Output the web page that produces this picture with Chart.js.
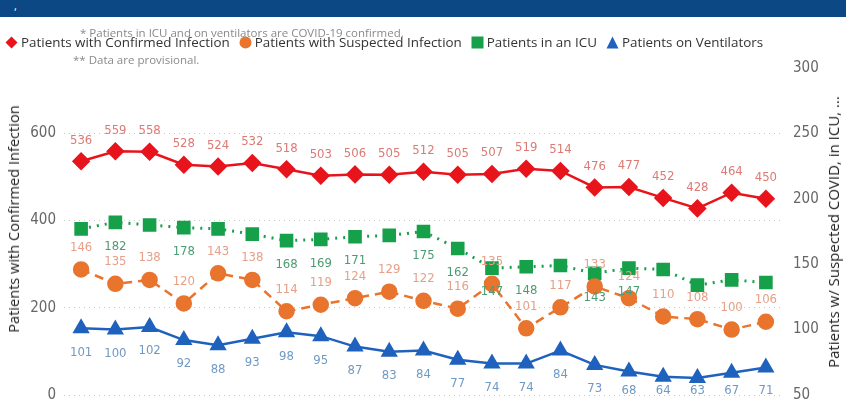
<!DOCTYPE html>
<html lang="en">
  <head>
    <meta charset="UTF-8" />
    <title>COVID-19 Hospitalizations</title>
    <script src="https://cdn.jsdelivr.net/npm/chart.js"></script>
    <style>
      body { margin: 0; width: 846px; height: 400px; overflow: hidden; background: #fff; position: relative; font-family: "Open Sans", sans-serif; }
      .banner { position: absolute; left: 0; top: 0; width: 846px; height: 17px; background: #0b4884; color: #fff; font-size: 11px; line-height: 12px; padding-left: 14px; box-sizing: border-box; }
      .wrap { position: absolute; left: 0; top: 0; width: 846px; height: 460px; }
      .note { position: absolute; color: #8a8a8a; font-size: 11.5px; white-space: nowrap; }
      .legend { position: absolute; left: 5px; top: 33px; display: flex; align-items: center; font-size: 13.4px; color: #333; white-space: nowrap; }
      .legend span.item { display: flex; align-items: center; margin-right: 9px; }
      .legend svg { margin-right: 3px; }
      .ytitle { position: absolute; transform: translate(-50%, -50%) rotate(-90deg); color: #222; white-space: nowrap; }
    </style>
  </head>
  <body>
    <div class="wrap"><canvas id="chart" width="846" height="460"></canvas></div>
    <div class="banner">,</div>
    <div class="note" style="left: 80px; top: 25px">* Patients in ICU and on ventilators are COVID-19 confirmed.</div>
    <div class="legend">
      <span class="item"><svg width="13" height="13"><polygon points="6.5,0.5 12.5,6.5 6.5,12.5 0.5,6.5" fill="#e8141c" /></svg>Patients with Confirmed Infection</span>
      <span class="item"><svg width="13" height="13"><circle cx="6.5" cy="6.5" r="6" fill="#e8742e" /></svg>Patients with Suspected Infection</span>
      <span class="item"><svg width="13" height="13"><rect x="0.5" y="0.5" width="12" height="12" fill="#16a04a" /></svg>Patients in an ICU</span>
      <span class="item"><svg width="13" height="13"><polygon points="6.5,0.5 12.5,12.5 0.5,12.5" fill="#1f62bd" /></svg>Patients on Ventilators</span>
    </div>
    <div class="note" style="left: 73px; top: 52px">** Data are provisional.</div>
    <div class="ytitle" style="left: 13px; top: 219px; font-size: 14.6px">Patients with Confirmed Infection</div>
    <div class="ytitle" style="left: 833px; top: 232px; font-size: 15px">Patients w/ Suspected COVID, in ICU, ...</div>

    <script>
      // dates (labels fall below the visible area)
      const days = [
        "4/20", "4/21", "4/22", "4/23", "4/24", "4/25", "4/26", "4/27", "4/28", "4/29", "4/30",
        "5/1", "5/2", "5/3", "5/4", "5/5", "5/6", "5/7", "5/8", "5/9", "5/10",
      ];
      const confirmed = [536, 559, 558, 528, 524, 532, 518, 503, 506, 505, 512, 505, 507, 519, 514, 476, 477, 452, 428, 464, 450];
      const suspected = [146, 135, 138, 120, 143, 138, 114, 119, 124, 129, 122, 116, 135, 101, 117, 133, 124, 110, 108, 100, 106];
      const icu = [177, 182, 180, 178, 177, 173, 168, 169, 171, 172, 175, 162, 147, 148, 149, 143, 147, 146, 134, 138, 136];
      const ventilators = [101, 100, 102, 92, 88, 93, 98, 95, 87, 83, 84, 77, 74, 74, 84, 73, 68, 64, 63, 67, 71];
      const leftTicks = [0, 200, 400, 600];
      // ICU labels the original shows (others were hidden behind overlaps)
      const icuLabelShown = [1, 3, 6, 7, 8, 10, 11, 12, 13, 15, 16];

      const labelFont = '"DejaVu Sans Condensed", "Liberation Sans Narrow", Roboto, sans-serif';

      // simple data label plugin, labels kept inside the plot area
      const valueLabels = {
        id: "valueLabels",
        afterDatasetsDraw(chart) {
          const ctx = chart.ctx;
          const bottom = chart.chartArea.bottom - 4;
          chart.data.datasets.forEach((ds, i) => {
            const meta = chart.getDatasetMeta(i);
            ctx.save();
            ctx.font = "13px " + labelFont;
            ctx.fillStyle = ds.labelColor;
            ctx.textAlign = "center";
            ctx.textBaseline = "middle";
            meta.data.forEach((pt, j) => {
              if (ds.labelShown && !ds.labelShown.includes(j)) return;
              ctx.fillText(ds.data[j], pt.x, Math.min(pt.y + ds.labelOffset, bottom));
            });
            ctx.restore();
          });
        },
      };

      new Chart(document.getElementById("chart"), {
        type: "line",
        data: {
          labels: days,
          datasets: [
            {
              label: "Patients with Confirmed Infection",
              data: confirmed,
              yAxisID: "y",
              borderColor: "#e8141c",
              backgroundColor: "#e8141c",
              borderWidth: 2.5,
              pointStyle: "rectRot",
              pointRadius: 7.5,
              labelColor: "#dc7a74",
              labelOffset: -21,
            },
            {
              label: "Patients with Suspected Infection",
              data: suspected,
              yAxisID: "y1",
              borderColor: "#e8742e",
              backgroundColor: "#e8742e",
              borderWidth: 2.5,
              borderDash: [9, 6],
              pointStyle: "circle",
              pointRadius: 7,
              labelColor: "#e6a088",
              labelOffset: -22,
            },
            {
              label: "Patients in an ICU",
              data: icu,
              yAxisID: "y1",
              borderColor: "#16a04a",
              backgroundColor: "#16a04a",
              borderWidth: 3,
              borderDash: [2, 6],
              pointStyle: "rect",
              pointRadius: 7.5,
              labelColor: "#4a9c72",
              labelOffset: 24,
              labelShown: icuLabelShown,
            },
            {
              label: "Patients on Ventilators",
              data: ventilators,
              yAxisID: "y1",
              borderColor: "#1f62bd",
              backgroundColor: "#1f62bd",
              borderWidth: 2.5,
              pointStyle: "triangle",
              pointRadius: 7.5,
              labelColor: "#7099c4",
              labelOffset: 24,
            },
          ],
        },
        options: {
          responsive: false,
          animation: false,
          layout: { padding: { top: 68, bottom: 0, left: 0, right: 0 } },
          plugins: { legend: { display: false }, tooltip: { enabled: false } },
          scales: {
            x: {
              offset: true,
              grid: { display: false },
              border: { display: false },
              ticks: { color: "#555", font: { size: 13 }, padding: 3, minRotation: 45, maxRotation: 45 },
              afterFit: (s) => { s.height = 65; },
            },
            y: {
              position: "left",
              min: 0,
              max: 750,
              afterBuildTicks: (s) => { s.ticks = leftTicks.map((v) => ({ value: v })); },
              ticks: { color: "#666", padding: 8, font: { size: 15, family: labelFont } },
              grid: { color: "#c8c8c8", borderDash: [1, 4], drawTicks: false },
              border: { display: false, dash: [1, 4] },
              afterFit: (s) => { s.width = 64; },
            },
            y1: {
              position: "right",
              min: 50,
              max: 300,
              ticks: { stepSize: 50, color: "#666", padding: 10, font: { size: 15, family: labelFont } },
              grid: { display: false, drawTicks: false },
              border: { display: false },
              afterFit: (s) => { s.width = 63; },
            },
          },
        },
        plugins: [valueLabels],
      });
    </script>
  </body>
</html>
